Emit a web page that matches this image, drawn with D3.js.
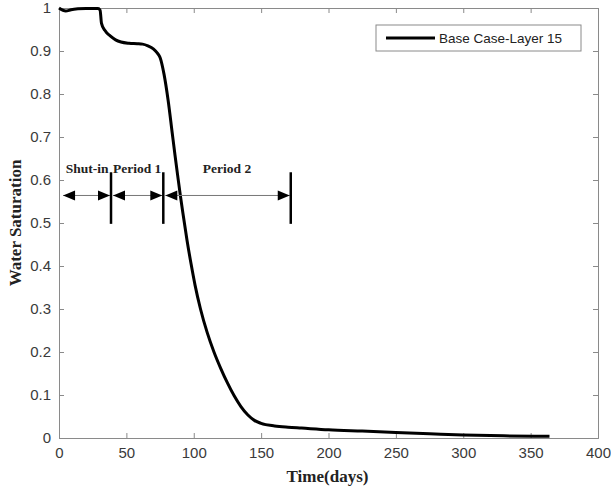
<!DOCTYPE html>
<html>
<head>
<meta charset="UTF-8">
<title>Water Saturation</title>
<script src="https://cdn.jsdelivr.net/npm/d3@7"></script>
<style>
  body { margin: 0; padding: 0; background: #fff; }
  .tick text { font-family: "Liberation Sans", Arial, sans-serif; font-size: 15px; fill: #3a3a3a; }
  .axis path, .axis line { stroke: #8a8a8a; }
  .lbl { font-family: "Liberation Serif", "Times New Roman", serif; font-weight: bold; fill: #222; }
</style>
</head>
<body>
<div id="chart"></div>
<script>
// curve
const days = [0, 5, 9, 14, 20, 29, 30.5, 31.5, 34, 38, 42, 46, 52, 58, 62, 66, 70, 73, 75, 78, 81, 84, 86, 88, 90, 92, 95, 98, 101, 105, 110, 115, 120, 125, 130, 135, 140, 145, 150, 160, 170, 180, 200, 225, 250, 275, 300, 330, 364];
const saturation = [1.0, 0.993, 0.996, 0.998, 0.999, 0.999, 0.995, 0.965, 0.948, 0.935, 0.926, 0.921, 0.918, 0.917, 0.916, 0.912, 0.905, 0.895, 0.885, 0.845, 0.785, 0.71, 0.66, 0.612, 0.565, 0.522, 0.46, 0.405, 0.355, 0.3, 0.245, 0.2, 0.162, 0.128, 0.098, 0.073, 0.054, 0.041, 0.034, 0.028, 0.025, 0.023, 0.019, 0.016, 0.013, 0.01, 0.007, 0.005, 0.004];

const xTicks = [0, 50, 100, 150, 200, 250, 300, 350, 400];
const yTicks = [0, 0.1, 0.2, 0.3, 0.4, 0.5, 0.6, 0.7, 0.8, 0.9, 1];

// period annotation
const periodBounds = [3, 38.6, 77.4, 172];
const periodLabels = ["Shut-in", "Period 1", "Period 2"];
const arrowLevel = 0.564;
const seriesName = "Base Case-Layer 15";

const w = 611, h = 489;
const mLeft = 59, mRight = 598, mTop = 8, mBottom = 438;

const x = d3.scaleLinear().domain([0, 400]).range([mLeft, mRight]);
const y = d3.scaleLinear().domain([0, 1]).range([mBottom, mTop]);

const svg = d3.select("#chart").append("svg")
  .attr("width", w).attr("height", h)
  .style("background", "#fff");

const fmt = d3.format("~g");

svg.append("g").attr("class", "axis")
  .attr("transform", `translate(0,${mBottom})`)
  .call(d3.axisBottom(x).tickValues(xTicks).tickFormat(fmt).tickSize(-5).tickPadding(9));
svg.append("g").attr("class", "axis")
  .attr("transform", `translate(0,${mTop})`)
  .call(d3.axisTop(x).tickValues(xTicks).tickFormat("").tickSize(-5));
svg.append("g").attr("class", "axis")
  .attr("transform", `translate(${mLeft},0)`)
  .call(d3.axisLeft(y).tickValues(yTicks).tickFormat(fmt).tickSize(-5).tickPadding(8));
svg.append("g").attr("class", "axis")
  .attr("transform", `translate(${mRight},0)`)
  .call(d3.axisRight(y).tickValues(yTicks).tickFormat("").tickSize(-5));
svg.selectAll(".axis .domain").attr("stroke", "#8a8a8a");

// curve
const pts = days.map((d, i) => [d, saturation[i]]);
svg.append("path")
  .datum(pts)
  .attr("fill", "none")
  .attr("stroke", "#000")
  .attr("stroke-width", 3)
  .attr("stroke-linejoin", "round")
  .attr("d", d3.line().x(d => x(d[0])).y(d => y(d[1])).curve(d3.curveMonotoneX));

// arrows
const ay = y(arrowLevel);
const head = 12, half = 5;
function arrowHead(tip, dir) {
  return `M${tip},${ay} L${tip - dir * head},${ay - half} L${tip - dir * head},${ay + half} Z`;
}
const ann = svg.append("g");
for (let i = 0; i < periodLabels.length; i++) {
  const x0 = x(periodBounds[i]) + (i > 0 ? 2 : 0);
  const x1 = x(periodBounds[i + 1]) - 1;
  ann.append("line")
    .attr("x1", x0).attr("x2", x1).attr("y1", ay).attr("y2", ay)
    .attr("stroke", "#777").attr("stroke-width", 1);
  ann.append("path").attr("d", arrowHead(x0, -1)).attr("fill", "#000");
  ann.append("path").attr("d", arrowHead(x1, 1)).attr("fill", "#000");
  ann.append("text").attr("class", "lbl")
    .attr("x", (x(periodBounds[i]) + x(periodBounds[i + 1])) / 2)
    .attr("y", y(0.617))
    .attr("text-anchor", "middle")
    .attr("font-size", 13.5)
    .text(periodLabels[i]);
}
periodBounds.slice(1).forEach(b => {
  ann.append("line")
    .attr("x1", x(b)).attr("x2", x(b))
    .attr("y1", y(0.618)).attr("y2", y(0.498))
    .attr("stroke", "#000").attr("stroke-width", 2.5);
});

// legend
const lg = svg.append("g");
lg.append("rect").attr("x", 376).attr("y", 25).attr("width", 205).attr("height", 26)
  .attr("fill", "#fff").attr("stroke", "#8a8a8a");
lg.append("line").attr("x1", 386).attr("x2", 435).attr("y1", 38).attr("y2", 38)
  .attr("stroke", "#000").attr("stroke-width", 3);
lg.append("text").attr("x", 439).attr("y", 38).attr("dy", "0.35em")
  .attr("font-family", "'Liberation Sans', Arial, sans-serif").attr("font-size", 13.5)
  .attr("fill", "#222").text(seriesName);

// axis labels
svg.append("text").attr("class", "lbl")
  .attr("x", (mLeft + mRight) / 2 - 1).attr("y", 482)
  .attr("text-anchor", "middle").attr("font-size", 17)
  .text("Time(days)");
svg.append("text").attr("class", "lbl")
  .attr("transform", `translate(21,${(mTop + mBottom) / 2}) rotate(-90)`)
  .attr("text-anchor", "middle").attr("font-size", 17)
  .text("Water Saturation");
</script>
</body>
</html>
